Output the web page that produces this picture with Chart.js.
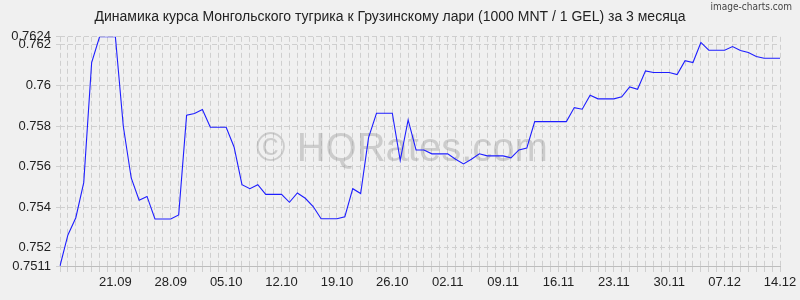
<!DOCTYPE html>
<html>
<head>
<meta charset="utf-8">
<script src="https://cdn.jsdelivr.net/npm/chart.js@4/dist/chart.umd.min.js"></script>
<style>
  html, body { margin: 0; padding: 0; background: #f0f0f0; }
  #wrap { width: 800px; height: 300px; }
</style>
</head>
<body>
<div id="wrap"><canvas id="c" width="800" height="300"></canvas></div>
<script>
const titleText = 'Динамика курса Монгольского тугрика к Грузинскому лари (1000 MNT / 1 GEL) за 3 месяца';
const brandText = 'image-charts.com';
const watermarkText = '© HQRates.com';

const dates = [
  '14.09','15.09','16.09','17.09','18.09','19.09','20.09','21.09','22.09','23.09','24.09','25.09','26.09','27.09','28.09','29.09','30.09',
  '01.10','02.10','03.10','04.10','05.10','06.10','07.10','08.10','09.10','10.10','11.10','12.10','13.10','14.10','15.10','16.10','17.10','18.10','19.10','20.10','21.10','22.10','23.10','24.10','25.10','26.10','27.10','28.10','29.10','30.10','31.10',
  '01.11','02.11','03.11','04.11','05.11','06.11','07.11','08.11','09.11','10.11','11.11','12.11','13.11','14.11','15.11','16.11','17.11','18.11','19.11','20.11','21.11','22.11','23.11','24.11','25.11','26.11','27.11','28.11','29.11','30.11',
  '01.12','02.12','03.12','04.12','05.12','06.12','07.12','08.12','09.12','10.12','11.12','12.12','13.12','14.12'
];

const rates = [
  0.75110, 0.75263, 0.75348, 0.75521, 0.76113, 0.76240, 0.76240, 0.76240, 0.75799, 0.75544,
  0.75434, 0.75453, 0.75342, 0.75342, 0.75342, 0.75362, 0.75853, 0.75862, 0.75881, 0.75794,
  0.75794, 0.75794, 0.75697, 0.75511, 0.75491, 0.75511, 0.75463, 0.75463, 0.75463, 0.75424,
  0.75470, 0.75444, 0.75403, 0.75343, 0.75343, 0.75343, 0.75353, 0.75491, 0.75467, 0.75743,
  0.75863, 0.75863, 0.75863, 0.75631, 0.75830, 0.75682, 0.75682, 0.75663, 0.75663, 0.75663,
  0.75636, 0.75613, 0.75636, 0.75663, 0.75653, 0.75653, 0.75653, 0.75643, 0.75682, 0.75692,
  0.75822, 0.75822, 0.75822, 0.75822, 0.75822, 0.75891, 0.75883, 0.75952, 0.75934, 0.75934,
  0.75934, 0.75944, 0.75993, 0.75981, 0.76072, 0.76064, 0.76064, 0.76064, 0.76054, 0.76122,
  0.76113, 0.76212, 0.76174, 0.76174, 0.76174, 0.76192, 0.76172, 0.76163, 0.76143, 0.76134,
  0.76134, 0.76134
];

const xTickLabels = ['21.09','28.09','05.10','12.10','19.10','26.10','02.11','09.11','16.11','23.11','30.11','07.12','14.12'];
const yTickLabels = ['0.7511','0.752','0.754','0.756','0.758','0.76','0.762','0.7624'];

const yMin = parseFloat(yTickLabels[0]);
const yMax = parseFloat(yTickLabels[yTickLabels.length - 1]);

const bgPlugin = {
  id: 'bg',
  beforeDraw(chart) {
    const ctx = chart.ctx;
    ctx.save();
    ctx.fillStyle = '#f0f0f0';
    ctx.fillRect(0, 0, chart.width, chart.height);
    ctx.restore();
  },
  beforeDatasetsDraw(chart) {
    const ctx = chart.ctx;
    ctx.save();
    ctx.fillStyle = 'rgba(150,150,150,0.4)';
    ctx.font = '40px "Liberation Sans", Arial, sans-serif';
    ctx.textAlign = 'center';
    ctx.textBaseline = 'middle';
    ctx.fillText(watermarkText, 402, 150);
    ctx.restore();
  },
  afterDraw(chart) {
    const ctx = chart.ctx;
    ctx.save();
    ctx.fillStyle = '#444';
    ctx.font = '10px "DejaVu Sans Condensed", "Liberation Sans Narrow", sans-serif';
    ctx.textAlign = 'right';
    ctx.textBaseline = 'middle';
    ctx.fillText(brandText, 792, 7);
    ctx.restore();
  }
};

new Chart(document.getElementById('c'), {
  type: 'line',
  data: {
    labels: dates,
    datasets: [{
      data: rates,
      borderColor: 'rgb(30,30,255)',
      borderWidth: 1.1,
      pointRadius: 0,
      tension: 0,
      fill: false
    }]
  },
  options: {
    responsive: false,
    animation: false,
    devicePixelRatio: 1,
    layout: { padding: { left: 0, right: 20, top: 0, bottom: 0 } },
    plugins: {
      legend: { display: false },
      tooltip: { enabled: false },
      title: {
        display: true,
        text: titleText,
        color: '#222',
        font: { family: '"Liberation Sans", Arial, sans-serif', size: 14, weight: 'normal' },
        padding: { top: 9, bottom: 11 }
      }
    },
    scales: {
      x: {
        type: 'category',
        offset: false,
        grid: {
          display: true,
          color: '#cfcfcf',
          lineWidth: 1,
          tickLength: 6,
          drawTicks: true
        },
        border: { display: true, color: '#bdbdbd', dash: [5, 3] },
        ticks: {
          autoSkip: false,
          maxRotation: 0,
          minRotation: 0,
          padding: 3,
          color: '#222',
          font: { family: '"Liberation Sans", Arial, sans-serif', size: 13 },
          callback: function (v, i) {
            const l = dates[i];
            return xTickLabels.includes(l) ? l : '';
          }
        },
        afterFit(scale) { scale.height = 34; }
      },
      y: {
        type: 'linear',
        min: yMin,
        max: yMax,
        grid: {
          display: true,
          color: '#cfcfcf',
          lineWidth: 1,
          tickLength: 4,
          drawTicks: true
        },
        border: { display: false, dash: [5, 3] },
        afterBuildTicks(scale) {
          scale.ticks = yTickLabels.map(s => ({ value: parseFloat(s) }));
        },
        ticks: {
          autoSkip: false,
          padding: 5,
          color: '#222',
          font: { family: '"Liberation Sans", Arial, sans-serif', size: 13 },
          callback: function (v) {
            const s = yTickLabels.find(t => Math.abs(parseFloat(t) - v) < 1e-7);
            return s !== undefined ? s : '';
          }
        },
        afterFit(scale) { scale.width = 60; }
      }
    }
  },
  plugins: [bgPlugin]
});
</script>
</body>
</html>
